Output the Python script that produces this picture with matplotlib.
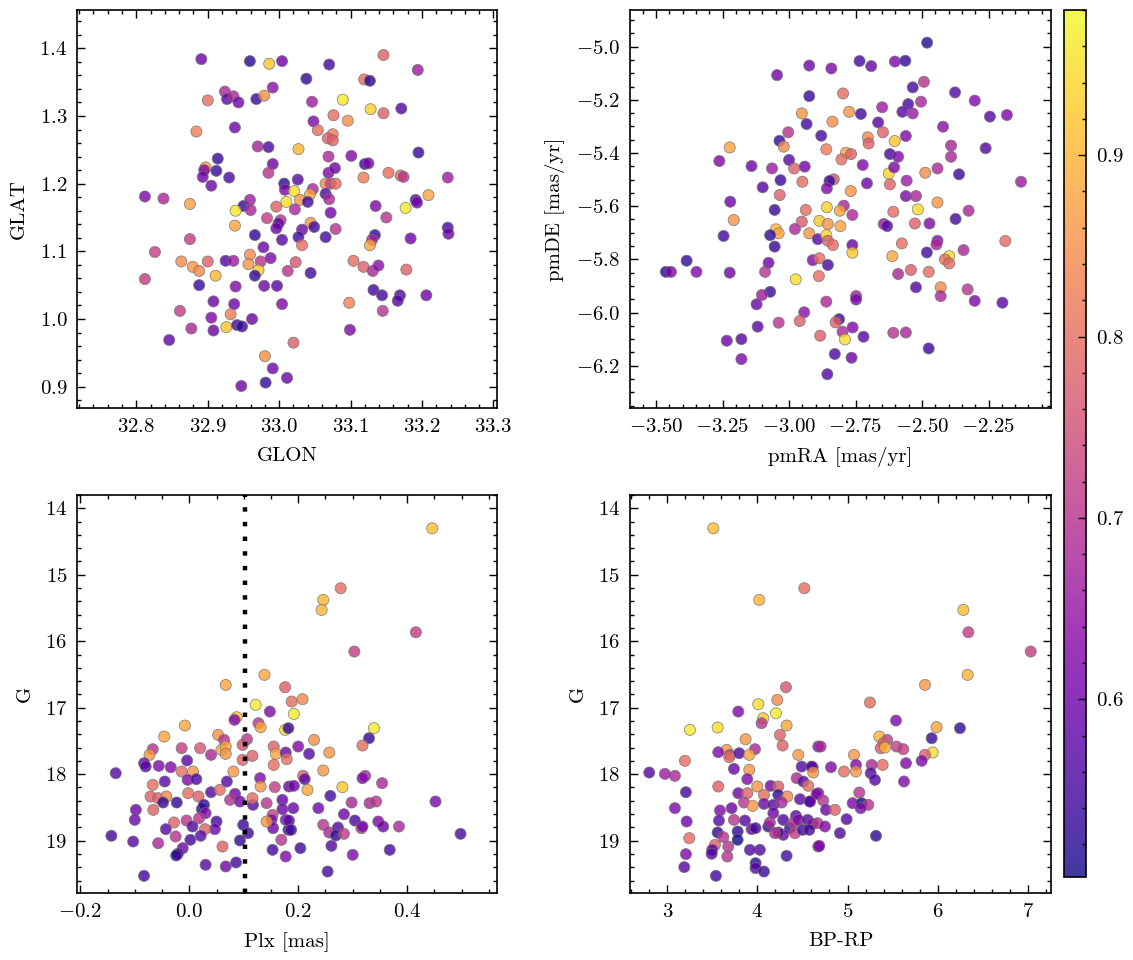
import numpy as np
import matplotlib
matplotlib.use("Agg")
from matplotlib import pyplot as plt
from matplotlib.ticker import MultipleLocator
from matplotlib.colors import Normalize

plt.rcParams.update({
    'font.family': 'serif',
    'font.serif': ['cmr10'],
    'mathtext.fontset': 'cm',
    'axes.formatter.use_mathtext': True,
    'font.size': 7.5,
    'axes.linewidth': 0.6,
    'xtick.direction': 'in', 'ytick.direction': 'in',
    'xtick.top': True, 'ytick.right': True,
    'xtick.major.size': 3, 'ytick.major.size': 3,
    'xtick.minor.size': 1.5, 'ytick.minor.size': 1.5,
    'xtick.major.width': 0.5, 'ytick.major.width': 0.5,
    'xtick.minor.width': 0.5, 'ytick.minor.width': 0.5,
    'xtick.minor.visible': True, 'ytick.minor.visible': True,
})

"""
Data (read off the figure)
"""
# galactic position
glon = [32.891, 32.959, 32.986, 33.004, 32.924, 32.927, 32.936, 32.943, 32.900, 32.968,
        32.979, 32.991, 32.884, 32.938, 32.970, 32.985, 32.914, 32.991, 32.897, 32.895,
        32.912, 32.930, 32.893, 32.905, 32.985, 33.007, 33.008, 32.812, 32.838, 32.875,
        32.950, 32.939, 32.959, 32.960, 32.996, 33.010, 32.983, 33.002, 32.999, 32.996,
        32.938, 32.966, 33.004, 32.875, 32.826, 32.978, 32.863, 32.879, 32.888, 32.900,
        32.925, 32.936, 32.959, 32.957, 32.974, 32.988, 32.971, 32.966, 33.012, 32.812,
        32.911, 32.888, 32.939, 32.979, 32.997, 32.908, 32.937, 33.004, 32.861, 32.932,
        32.905, 32.962, 32.877, 32.908, 32.926, 32.941, 32.948, 32.846, 32.980, 32.991,
        32.981, 32.947, 33.011, 33.070, 33.146, 33.194, 33.038, 33.119, 33.127, 33.046,
        33.089, 33.128, 33.146, 33.171, 33.076, 33.096, 33.048, 33.054, 33.075, 33.068,
        33.075, 33.027, 33.069, 33.101, 33.195, 33.120, 33.125, 33.069, 33.078, 33.118,
        33.153, 33.170, 33.174, 33.236, 33.026, 33.065, 33.072, 33.079, 33.021, 33.047,
        33.065, 33.043, 33.029, 33.040, 33.070, 33.022, 33.072, 33.209, 33.191, 33.193,
        33.177, 33.135, 33.150, 33.044, 33.049, 33.079, 33.032, 33.027, 33.065, 33.032,
        33.134, 33.130, 33.127, 33.184, 33.236, 33.237, 33.104, 33.118, 33.131, 33.139,
        33.178, 33.023, 33.044, 33.132, 33.144, 33.169, 33.166, 33.206, 33.098, 33.145,
        33.099, 33.020]
glat = [1.384, 1.381, 1.377, 1.381, 1.336, 1.325, 1.329, 1.320, 1.323, 1.325,
        1.330, 1.342, 1.277, 1.283, 1.255, 1.254, 1.237, 1.229, 1.224, 1.220,
        1.219, 1.209, 1.210, 1.197, 1.216, 1.200, 1.191, 1.181, 1.178, 1.170,
        1.167, 1.160, 1.176, 1.161, 1.166, 1.173, 1.149, 1.146, 1.141, 1.134,
        1.138, 1.124, 1.117, 1.118, 1.099, 1.106, 1.085, 1.077, 1.071, 1.085,
        1.086, 1.086, 1.095, 1.081, 1.085, 1.090, 1.072, 1.064, 1.071, 1.059,
        1.064, 1.050, 1.048, 1.049, 1.049, 1.026, 1.022, 1.022, 1.012, 1.007,
        1.002, 1.000, 0.986, 0.983, 0.988, 0.991, 0.989, 0.969, 0.945, 0.927,
        0.906, 0.901, 0.913, 1.376, 1.390, 1.368, 1.355, 1.354, 1.352, 1.321,
        1.324, 1.310, 1.304, 1.311, 1.301, 1.293, 1.292, 1.279, 1.273, 1.267,
        1.264, 1.251, 1.240, 1.241, 1.246, 1.229, 1.230, 1.216, 1.223, 1.209,
        1.216, 1.212, 1.210, 1.209, 1.206, 1.200, 1.200, 1.200, 1.189, 1.192,
        1.185, 1.184, 1.176, 1.173, 1.177, 1.162, 1.157, 1.183, 1.176, 1.172,
        1.164, 1.167, 1.150, 1.142, 1.136, 1.133, 1.132, 1.121, 1.121, 1.109,
        1.124, 1.117, 1.109, 1.119, 1.135, 1.126, 1.086, 1.077, 1.071, 1.079,
        1.073, 1.084, 1.068, 1.043, 1.035, 1.035, 1.027, 1.035, 1.024, 1.012,
        0.984, 0.965]
prob_sky = [0.60, 0.52, 0.92, 0.60, 0.68, 0.58, 0.68, 0.60, 0.80, 0.53,
            0.85, 0.64, 0.83, 0.60, 0.67, 0.56, 0.54, 0.60, 0.88, 0.62,
            0.54, 0.56, 0.60, 0.60, 0.70, 0.52, 0.62, 0.62, 0.68, 0.87,
            0.54, 0.96, 0.66, 0.68, 0.78, 0.95, 0.72, 0.70, 0.58, 0.60,
            0.88, 0.53, 0.57, 0.72, 0.72, 0.60, 0.84, 0.86, 0.84, 0.78,
            0.56, 0.66, 0.84, 0.86, 0.70, 0.62, 0.93, 0.53, 0.70, 0.72,
            0.90, 0.54, 0.62, 0.60, 0.57, 0.60, 0.60, 0.62, 0.72, 0.82,
            0.62, 0.60, 0.68, 0.60, 0.92, 0.55, 0.53, 0.58, 0.85, 0.60,
            0.53, 0.60, 0.60, 0.55, 0.78, 0.66, 0.53, 0.80, 0.52, 0.66,
            0.96, 0.93, 0.78, 0.57, 0.80, 0.85, 0.62, 0.80, 0.82, 0.78,
            0.78, 0.90, 0.68, 0.63, 0.54, 0.53, 0.62, 0.62, 0.60, 0.82,
            0.80, 0.80, 0.70, 0.66, 0.57, 0.84, 0.72, 0.80, 0.95, 0.68,
            0.56, 0.88, 0.86, 0.55, 0.68, 0.68, 0.60, 0.88, 0.57, 0.60,
            0.96, 0.62, 0.70, 0.86, 0.55, 0.70, 0.60, 0.55, 0.55, 0.80,
            0.53, 0.68, 0.88, 0.60, 0.55, 0.60, 0.80, 0.78, 0.68, 0.64,
            0.78, 0.76, 0.55, 0.55, 0.55, 0.57, 0.57, 0.60, 0.83, 0.70,
            0.62, 0.78]

# proper motions
pmra = [-3.045, -2.924, -2.924, -2.952, -2.934, -3.003, -3.036, -3.020, -3.223, -3.262,
        -3.141, -3.064, -3.000, -2.981, -2.941, -3.032, -2.950, -3.099, -3.035, -3.221,
        -3.054, -2.937, -3.208, -2.952, -3.246, -3.049, -3.039, -3.071, -2.978, -2.924,
        -3.054, -3.385, -3.463, -3.444, -3.348, -3.223, -3.077, -3.090, -2.911, -2.975,
        -3.071, -3.102, -3.122, -2.943, -2.960, -3.039, -3.118, -3.234, -3.179, -3.179,
        -2.481, -2.841, -2.735, -2.691, -2.602, -2.563, -2.493, -2.535, -2.797, -2.376,
        -2.302, -2.504, -2.552, -2.650, -2.574, -2.535, -2.774, -2.730, -2.665, -2.837,
        -2.245, -2.181, -2.421, -2.647, -2.879, -2.704, -2.701, -2.603, -2.561, -2.391,
        -2.261, -2.860, -2.786, -2.767, -2.803, -2.621, -2.590, -2.391, -2.723, -2.625,
        -2.605, -2.442, -2.488, -2.361, -2.621, -2.558, -2.128, -2.832, -2.848, -2.707,
        -2.858, -2.768, -2.561, -2.523, -2.442, -2.325, -2.858, -2.794, -2.809, -2.762,
        -2.608, -2.516, -2.374, -2.886, -2.854, -2.807, -2.644, -2.631, -2.527, -2.472,
        -2.892, -2.860, -2.854, -2.835, -2.762, -2.762, -2.576, -2.442, -2.187, -2.446,
        -2.344, -2.482, -2.612, -2.398, -2.414, -2.398, -2.886, -2.854, -2.888, -2.590,
        -2.542, -2.475, -2.523, -2.430, -2.430, -2.329, -2.302, -2.198, -2.748, -2.748,
        -2.860, -2.883, -2.812, -2.825, -2.799, -2.790, -2.761, -2.720, -2.608, -2.561,
        -2.828, -2.765, -2.856, -2.475]
pmde = [-5.107, -5.071, -5.186, -5.251, -5.291, -5.322, -5.354, -5.376, -5.379, -5.430,
        -5.449, -5.458, -5.426, -5.458, -5.451, -5.502, -5.508, -5.529, -5.558, -5.583,
        -5.614, -5.614, -5.652, -5.658, -5.712, -5.687, -5.702, -5.709, -5.686, -5.702,
        -5.752, -5.805, -5.847, -5.847, -5.847, -5.850, -5.813, -5.847, -5.803, -5.875,
        -5.922, -5.934, -5.969, -5.999, -6.032, -6.038, -6.053, -6.106, -6.100, -6.175,
        -4.985, -5.082, -5.054, -5.073, -5.056, -5.053, -5.132, -5.153, -5.176, -5.172,
        -5.203, -5.207, -5.216, -5.228, -5.245, -5.251, -5.245, -5.253, -5.285, -5.282,
        -5.263, -5.257, -5.301, -5.322, -5.335, -5.341, -5.364, -5.355, -5.336, -5.372,
        -5.382, -5.386, -5.399, -5.404, -5.424, -5.404, -5.414, -5.414, -5.445, -5.477,
        -5.454, -5.458, -5.474, -5.480, -5.518, -5.504, -5.508, -5.499, -5.505, -5.514,
        -5.533, -5.543, -5.562, -5.562, -5.586, -5.617, -5.604, -5.598, -5.617, -5.633,
        -5.621, -5.612, -5.648, -5.655, -5.667, -5.675, -5.667, -5.675, -5.665, -5.665,
        -5.724, -5.709, -5.730, -5.746, -5.746, -5.775, -5.740, -5.730, -5.731, -5.744,
        -5.765, -5.774, -5.788, -5.788, -5.800, -5.815, -5.796, -5.821, -5.863, -5.855,
        -5.840, -5.847, -5.905, -5.905, -5.938, -5.913, -5.956, -5.963, -5.938, -5.951,
        -5.959, -6.087, -6.025, -6.037, -6.072, -6.101, -6.056, -6.091, -6.076, -6.075,
        -6.156, -6.170, -6.232, -6.135]
prob_pm = [0.60, 0.60, 0.54, 0.86, 0.55, 0.70, 0.53, 0.84, 0.88, 0.62,
           0.60, 0.66, 0.57, 0.78, 0.60, 0.54, 0.80, 0.57, 0.78, 0.60,
           0.54, 0.80, 0.86, 0.77, 0.55, 0.91, 0.88, 0.53, 0.68, 0.86,
           0.54, 0.53, 0.52, 0.62, 0.62, 0.60, 0.60, 0.70, 0.62, 0.95,
           0.54, 0.66, 0.60, 0.64, 0.78, 0.70, 0.57, 0.60, 0.57, 0.62,
           0.52, 0.62, 0.55, 0.60, 0.62, 0.53, 0.70, 0.55, 0.80, 0.57,
           0.62, 0.68, 0.55, 0.66, 0.58, 0.66, 0.86, 0.55, 0.57, 0.85,
           0.57, 0.62, 0.64, 0.78, 0.55, 0.84, 0.78, 0.92, 0.62, 0.68,
           0.57, 0.82, 0.88, 0.78, 0.80, 0.55, 0.62, 0.68, 0.62, 0.94,
           0.62, 0.68, 0.84, 0.54, 0.78, 0.66, 0.66, 0.76, 0.53, 0.60,
           0.62, 0.86, 0.62, 0.68, 0.86, 0.68, 0.93, 0.68, 0.88, 0.68,
           0.80, 0.95, 0.55, 0.92, 0.86, 0.88, 0.66, 0.57, 0.78, 0.62,
           0.57, 0.94, 0.78, 0.80, 0.60, 0.92, 0.80, 0.62, 0.80, 0.68,
           0.68, 0.55, 0.88, 0.95, 0.80, 0.80, 0.80, 0.55, 0.80, 0.68,
           0.78, 0.80, 0.57, 0.84, 0.68, 0.70, 0.62, 0.58, 0.66, 0.62,
           0.68, 0.78, 0.54, 0.78, 0.68, 0.95, 0.62, 0.58, 0.70, 0.68,
           0.56, 0.60, 0.57, 0.54]

# parallax vs magnitude
plx = [0.138, 0.067, 0.176, 0.122, 0.148, 0.087, 0.083, 0.127, 0.131, -0.008,
       -0.046, 0.176, 0.182, 0.053, 0.064, 0.106, -0.067, -0.073, -0.014, 0.020,
       0.040, 0.059, 0.067, 0.067, 0.098, 0.116, 0.098, 0.155, 0.159, 0.177,
       0.155, 0.179, -0.083, -0.080, -0.056, -0.034, -0.004, -0.135, -0.014, 0.007,
       -0.003, 0.013, -0.045, 0.069, 0.081, -0.067, -0.071, -0.057, -0.042, -0.002,
       0.017, 0.040, 0.056, 0.084, 0.075, 0.093, 0.117, 0.116, 0.130, 0.131,
       0.157, 0.171, 0.142, -0.048, -0.023, -0.066, -0.098, -0.100, -0.028, -0.005,
       0.006, 0.023, 0.027, 0.030, 0.018, 0.050, 0.047, 0.029, -0.043, -0.025,
       0.021, 0.002, -0.143, -0.103, -0.057, -0.012, -0.021, -0.024, 0.061, 0.099,
       0.108, 0.093, 0.086, 0.067, 0.030, -0.083, 0.153, 0.169, 0.153, 0.151,
       0.154, 0.142, 0.177, 0.182, 0.177, 0.171, 0.183,
       0.446, 0.278, 0.246, 0.243, 0.416, 0.303, 0.188, 0.208, 0.192, 0.339,
       0.330, 0.318, 0.229, 0.200, 0.220, 0.257, 0.246, 0.209, 0.212, 0.323,
       0.318, 0.354, 0.281, 0.192, 0.217, 0.259, 0.191, 0.237, 0.298, 0.331,
       0.343, 0.452, 0.284, 0.183, 0.187, 0.246, 0.257, 0.273, 0.269, 0.284,
       0.304, 0.316, 0.318, 0.347, 0.356, 0.385, 0.498, 0.204, 0.261, 0.300,
       0.368, 0.254]
gmag_plx = [16.506, 16.657, 16.692, 16.957, 17.058, 17.143, 17.183, 17.233, 17.293, 17.268,
            17.434, 17.333, 17.308, 17.409, 17.484, 17.474, 17.624, 17.709, 17.609, 17.609,
            17.709, 17.634, 17.584, 17.694, 17.559, 17.724, 17.784, 17.584, 17.694, 17.674,
            17.860, 17.774, 17.835, 17.885, 17.875, 17.895, 17.794, 17.985, 17.960, 17.960,
            18.085, 18.075, 18.110, 18.110, 17.960, 18.160, 18.336, 18.361, 18.336, 18.286,
            18.336, 18.271, 18.236, 18.296, 18.386, 18.411, 18.461, 18.361, 18.060, 18.185,
            18.195, 18.386, 18.436, 18.426, 18.426, 18.536, 18.536, 18.687, 18.727, 18.697,
            18.787, 18.526, 18.461, 18.586, 18.662, 18.712, 18.827, 18.827, 18.827, 18.937,
            18.927, 18.987, 18.927, 19.013, 19.038, 19.113, 19.198, 19.223, 19.088, 18.762,
            18.887, 18.997, 19.328, 19.388, 19.363, 19.529, 19.138, 18.987, 18.612, 18.687,
            18.812, 18.712, 19.238, 18.837, 18.687, 18.526, 18.185,
            14.301, 15.203, 15.378, 15.529, 15.865, 16.155, 16.907, 16.872, 17.093, 17.308,
            17.459, 17.569, 17.484, 17.584, 17.694, 17.674, 17.945, 18.025, 18.075, 18.025,
            18.060, 18.135, 18.195, 18.175, 18.236, 18.326, 18.511, 18.511, 18.426, 18.436,
            18.411, 18.411, 18.602, 18.697, 18.837, 18.762, 18.877, 18.802, 18.922, 18.897,
            18.697, 18.812, 18.787, 18.712, 18.787, 18.787, 18.897, 19.113, 19.078, 19.213,
            19.138, 19.464]
prob_plx = [0.88, 0.88, 0.78, 0.96, 0.62, 0.92, 0.62, 0.70, 0.88, 0.88,
            0.88, 0.95, 0.53, 0.85, 0.70, 0.70, 0.70, 0.86, 0.72, 0.76,
            0.68, 0.88, 0.88, 0.86, 0.76, 0.78, 0.78, 0.78, 0.88, 0.60,
            0.80, 0.80, 0.60, 0.57, 0.62, 0.62, 0.57, 0.57, 0.80, 0.86,
            0.62, 0.55, 0.57, 0.57, 0.86, 0.80, 0.78, 0.78, 0.84, 0.80,
            0.78, 0.57, 0.80, 0.60, 0.70, 0.60, 0.57, 0.80, 0.62, 0.86,
            0.72, 0.58, 0.70, 0.53, 0.53, 0.78, 0.60, 0.60, 0.78, 0.70,
            0.56, 0.53, 0.53, 0.62, 0.70, 0.55, 0.60, 0.78, 0.57, 0.70,
            0.57, 0.55, 0.55, 0.57, 0.68, 0.60, 0.55, 0.53, 0.78, 0.54,
            0.55, 0.53, 0.55, 0.60, 0.57, 0.55, 0.55, 0.70, 0.72, 0.62,
            0.60, 0.86, 0.62, 0.55, 0.62, 0.60, 0.60,
            0.91, 0.80, 0.90, 0.90, 0.72, 0.72, 0.80, 0.84, 0.96, 0.96,
            0.53, 0.80, 0.85, 0.62, 0.57, 0.86, 0.86, 0.78, 0.57, 0.68,
            0.62, 0.68, 0.92, 0.60, 0.88, 0.55, 0.60, 0.60, 0.68, 0.68,
            0.70, 0.62, 0.60, 0.57, 0.55, 0.70, 0.68, 0.56, 0.53, 0.72,
            0.55, 0.70, 0.62, 0.62, 0.60, 0.68, 0.55, 0.55, 0.57, 0.62,
            0.55, 0.55]
plx_cut = 0.103

# colour-magnitude diagram
bprp = [3.511, 4.021, 4.521, 4.317, 4.221, 4.010, 4.206, 4.065, 4.047, 3.788,
        4.324, 3.252, 3.559, 4.250, 4.280, 3.869, 3.973, 3.659, 3.566, 3.696,
        3.799, 3.910, 3.688, 3.196, 4.454, 4.676, 3.085, 2.800, 2.974, 3.740,
        3.910, 3.888, 3.999, 3.566, 3.207, 3.788, 3.888, 3.851, 3.947, 4.147,
        4.232, 4.232, 4.332, 4.073, 4.073, 4.177, 4.269, 4.491, 4.613, 4.436,
        4.510, 4.565, 4.473, 4.584, 4.676, 3.085, 3.585, 3.714, 3.740, 3.574,
        3.215, 3.862, 3.936, 3.980, 4.121, 4.177, 4.139, 4.287, 4.361, 4.428,
        4.399, 4.454, 4.558, 4.417, 4.287, 4.232, 4.195, 3.244, 3.559, 3.622,
        3.529, 3.677, 3.781, 3.781, 4.028, 3.917, 3.499, 3.492, 3.207, 3.666,
        4.324, 3.980, 3.980, 4.073, 3.189, 3.540, 4.676, 4.613, 4.502,
        6.285, 6.341, 7.033, 6.333, 5.860, 5.249, 5.538, 5.989, 6.248, 5.934,
        5.945, 5.353, 5.441, 5.397, 5.368, 5.416, 5.545, 5.619, 5.860, 5.823,
        5.649, 5.390, 5.268, 5.257, 5.305, 5.627, 5.072, 5.094, 5.094, 4.961,
        4.817, 4.702, 4.602, 4.620, 5.131, 5.057, 5.157, 5.231, 5.146, 4.657,
        4.731, 4.583, 4.761, 4.861, 4.990, 4.668, 4.750, 4.576, 4.916, 5.316,
        4.687]
gmag_cmd = [14.301, 15.378, 15.203, 16.692, 16.882, 16.947, 17.083, 17.158, 17.233, 17.058,
            17.268, 17.333, 17.298, 17.409, 17.569, 17.474, 17.624, 17.634, 17.669, 17.709,
            17.684, 17.709, 17.744, 17.799, 17.709, 17.584, 18.025, 17.975, 17.995, 17.920,
            17.935, 18.075, 18.185, 18.185, 18.271, 18.286, 18.286, 18.426, 18.476, 18.175,
            18.185, 18.311, 18.336, 18.311, 18.446, 18.461, 18.426, 17.885, 17.895, 18.060,
            18.110, 18.175, 18.376, 18.411, 18.286, 18.511, 18.546, 18.511, 18.687, 18.697,
            18.712, 18.697, 18.827, 18.812, 18.787, 18.586, 18.727, 18.687, 18.812, 18.627,
            18.737, 18.687, 18.687, 18.887, 18.912, 18.877, 18.887, 18.962, 18.877, 18.947,
            19.063, 19.088, 18.862, 18.987, 19.138, 19.138, 19.138, 19.198, 19.203, 19.238,
            19.228, 19.338, 19.413, 19.464, 19.398, 19.529, 19.088, 18.747, 18.837,
            15.529, 15.865, 16.155, 16.506, 16.657, 16.922, 17.193, 17.293, 17.308, 17.459,
            17.674, 17.434, 17.484, 17.534, 17.609, 17.599, 17.584, 17.624, 17.709, 17.799,
            17.835, 17.860, 17.860, 17.985, 18.085, 18.110, 17.709, 17.860, 17.960, 17.960,
            17.895, 17.584, 17.885, 17.975, 18.276, 18.436, 18.436, 18.461, 18.511, 18.301,
            18.396, 18.411, 18.536, 18.536, 18.677, 18.737, 18.787, 18.837, 18.887, 18.927,
            19.078]
prob_cmd = [0.91, 0.90, 0.80, 0.76, 0.84, 0.95, 0.96, 0.92, 0.70, 0.62,
            0.88, 0.96, 0.95, 0.78, 0.78, 0.86, 0.68, 0.86, 0.62, 0.72,
            0.55, 0.88, 0.80, 0.80, 0.86, 0.62, 0.68, 0.57, 0.66, 0.60,
            0.86, 0.62, 0.86, 0.78, 0.55, 0.60, 0.78, 0.70, 0.86, 0.60,
            0.78, 0.53, 0.84, 0.80, 0.60, 0.57, 0.68, 0.57, 0.60, 0.68,
            0.57, 0.80, 0.58, 0.60, 0.62, 0.62, 0.62, 0.60, 0.70, 0.57,
            0.60, 0.57, 0.60, 0.55, 0.52, 0.60, 0.68, 0.56, 0.53, 0.57,
            0.70, 0.62, 0.57, 0.72, 0.60, 0.56, 0.70, 0.80, 0.53, 0.70,
            0.78, 0.70, 0.53, 0.50, 0.56, 0.57, 0.57, 0.57, 0.62, 0.70,
            0.55, 0.52, 0.57, 0.54, 0.57, 0.55, 0.62, 0.62, 0.55,
            0.91, 0.72, 0.72, 0.90, 0.86, 0.80, 0.62, 0.88, 0.53, 0.54,
            0.95, 0.90, 0.72, 0.78, 0.76, 0.90, 0.72, 0.72, 0.78, 0.62,
            0.62, 0.80, 0.68, 0.57, 0.57, 0.62, 0.86, 0.62, 0.86, 0.80,
            0.62, 0.68, 0.57, 0.86, 0.70, 0.62, 0.50, 0.70, 0.62, 0.62,
            0.70, 0.57, 0.60, 0.78, 0.57, 0.70, 0.62, 0.55, 0.56, 0.53,
            0.62]

"""
Plotting
"""
norm = Normalize(vmin=0.502, vmax=0.98)
kw = dict(cmap='plasma', norm=norm, s=16, alpha=0.8, edgecolors='0.45', linewidths=0.3)

fig = plt.figure(figsize=(5.665, 4.8), dpi=200)
ax1 = fig.add_axes([0.068, 0.575, 0.3707, 0.4146])
ax2 = fig.add_axes([0.556, 0.575, 0.3717, 0.4146])
ax3 = fig.add_axes([0.068, 0.0698, 0.3707, 0.4146])
ax4 = fig.add_axes([0.556, 0.0698, 0.3717, 0.4146])
cax = fig.add_axes([0.939, 0.0865, 0.0194, 0.903])

# Fig 1 : GLON vs GLAT
sc = ax1.scatter(glon, glat, c=prob_sky, **kw)
ax1.set_xlim(32.717, 33.305)
ax1.set_ylim(0.8685, 1.4566)
ax1.xaxis.set_major_locator(MultipleLocator(0.1))
ax1.xaxis.set_minor_locator(MultipleLocator(0.02))
ax1.yaxis.set_major_locator(MultipleLocator(0.1))
ax1.yaxis.set_minor_locator(MultipleLocator(0.02))
ax1.set_xlabel('GLON')
ax1.set_ylabel('GLAT')

# Fig 2 : proper motions
ax2.scatter(pmra, pmde, c=prob_pm, **kw)
ax2.set_xlim(-3.598, -2.015)
ax2.set_ylim(-6.359, -4.862)
ax2.xaxis.set_major_locator(MultipleLocator(0.25))
ax2.xaxis.set_minor_locator(MultipleLocator(0.05))
ax2.yaxis.set_major_locator(MultipleLocator(0.2))
ax2.yaxis.set_minor_locator(MultipleLocator(0.05))
ax2.set_xlabel('pmRA [mas/yr]')
ax2.set_ylabel('pmDE [mas/yr]')

# Fig 3 : parallax vs G
ax3.scatter(plx, gmag_plx, c=prob_plx, **kw)
ax3.axvline(plx_cut, color='k', lw=1.6, ls=(0, (1, 2.3)))
ax3.set_xlim(-0.206, 0.565)
ax3.set_ylim(19.787, 13.8)
ax3.xaxis.set_major_locator(MultipleLocator(0.2))
ax3.xaxis.set_minor_locator(MultipleLocator(0.05))
ax3.yaxis.set_major_locator(MultipleLocator(1))
ax3.yaxis.set_minor_locator(MultipleLocator(0.2))
ax3.set_xlabel('Plx [mas]')
ax3.set_ylabel('G')

# Fig 4 : CMD
ax4.scatter(bprp, gmag_cmd, c=prob_cmd, **kw)
ax4.set_xlim(2.586, 7.259)
ax4.set_ylim(19.787, 13.8)
ax4.xaxis.set_major_locator(MultipleLocator(1))
ax4.xaxis.set_minor_locator(MultipleLocator(0.2))
ax4.yaxis.set_major_locator(MultipleLocator(1))
ax4.yaxis.set_minor_locator(MultipleLocator(0.2))
ax4.set_xlabel('BP-RP')
ax4.set_ylabel('G')

cb = fig.colorbar(sc, cax=cax)
cb.ax.yaxis.set_major_locator(MultipleLocator(0.1))
cb.ax.yaxis.set_minor_locator(MultipleLocator(0.02))
cb.ax.tick_params(which='both', direction='in')
cb.outline.set_linewidth(0.6)

fig.savefig('out.png', dpi=200)
